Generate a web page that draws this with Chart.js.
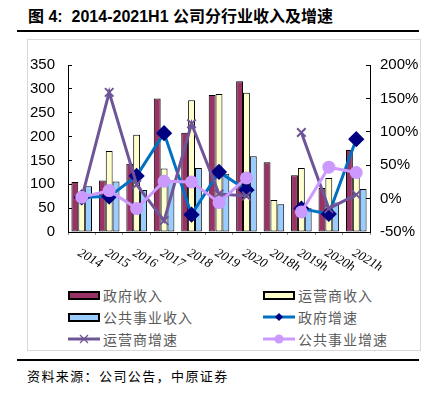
<!DOCTYPE html>
<html>
<head>
<meta charset="utf-8">
<script src="https://cdn.jsdelivr.net/npm/chart.js@4/dist/chart.umd.min.js"></script>
<style>
  body { margin: 0; width: 433px; height: 394px; background: #fff; position: relative; overflow: hidden; font-family: "Noto Sans CJK SC", sans-serif; }
  #title { position: absolute; left: 28px; top: 3px; font: bold 16px "Liberation Sans", "Noto Sans CJK SC"; white-space: pre; color: #000; }
  .rule { position: absolute; left: 17px; width: 402px; height: 2px; background: #000; }
  #frame { position: absolute; left: 27px; top: 39px; width: 394px; height: 312px; border: 1px solid #d9d9d9; box-sizing: border-box; }
  #wrap { position: absolute; left: 27px; top: 39px; width: 395px; height: 246px; }
  .leg { position: absolute; height: 18px; display: flex; align-items: center; font-size: 14px; color: #5a5a5a; letter-spacing: 1px; }
  .box { width: 32px; height: 9px; border: 2px solid #000; box-sizing: border-box; margin-right: 3px; }
  .leg svg { margin-right: 3px; }
  #source { position: absolute; left: 27px; top: 366px; font-size: 13px; letter-spacing: 1.4px; color: #000; }
</style>
</head>
<body>
<div id="title">图 4:  2014-2021H1 公司分行业收入及增速</div>
<div class="rule" style="top:30px"></div>
<div id="frame"></div>
<div id="wrap"><canvas id="chart"></canvas></div>
<div id="legend"></div>
<div class="rule" style="top:359px"></div>
<div id="source">资料来源：公司公告，中原证券</div>

<script>
const categories = ["2014", "2015", "2016", "2017", "2018", "2019", "2020", "2018h", "2019h", "2020h", "2021h"];

// revenue (left axis)
const govRevenue = [105, 108, 143, 280, 208, 287, 316, 146, 119, 92, 172];
const operatorRevenue = [75, 170, 204, 133, 276, 289, 292, 67, 134, 113, 122];
const utilityRevenue = [96, 106, 88, 108, 134, 122, 159, 58, 50, 62, 90];

// growth in % (right axis), 2018h has no growth value
const govGrowth = [2, 3, 34, 98, -24, 40, 13, null, -15, -23, 89];
const operatorGrowth = [1, 159, 21, -33, 112, 7, 4, null, 99, -15, 6];
const utilityGrowth = [2, 12, -15, 26, 25, -6, 31, null, -20, 47, 39];

const leftTicks = { min: 0, max: 350, step: 50 };
const rightTicks = { min: -50, max: 200, step: 50 };

const colors = {
  gov: "#993366",
  operator: "#FFFFCC",
  utility: "#99CCFF",
  govLine: "#0070C0",
  govPoint: "#000080",
  operatorLine: "#6F5597",
  utilityLine: "#CC99FF"
};

const legendItems = [
  { label: "政府收入", type: "box", color: colors.gov, x: 68, y: 295 },
  { label: "运营商收入", type: "box", color: colors.operator, x: 263, y: 295 },
  { label: "公共事业收入", type: "box", color: colors.utility, x: 68, y: 317 },
  { label: "政府增速", type: "diamond", color: colors.govLine, point: colors.govPoint, x: 263, y: 317 },
  { label: "运营商增速", type: "cross", color: colors.operatorLine, point: colors.operatorLine, x: 68, y: 339 },
  { label: "公共事业增速", type: "circle", color: colors.utilityLine, point: colors.utilityLine, x: 263, y: 339 }
];

function markerSvg(item) {
  let mark = "";
  if (item.type === "diamond") {
    mark = `<path d="M16 3 L20 7 L16 11 L12 7 Z" fill="${item.point}"/>`;
  } else if (item.type === "cross") {
    mark = `<path d="M12 3 L20 11 M20 3 L12 11" stroke="${item.point}" stroke-width="1.2"/>`;
  } else {
    mark = `<circle cx="16" cy="7" r="4.5" fill="${item.point}"/>`;
  }
  return `<svg width="32" height="14"><line x1="0" y1="7" x2="32" y2="7" stroke="${item.color}" stroke-width="3"/>${mark}</svg>`;
}

function renderLegend() {
  const html = legendItems.map((item) => {
    const swatch = item.type === "box"
      ? `<span class="box" style="background:${item.color}"></span>`
      : markerSvg(item);
    return `<div class="leg" style="left:${item.x}px;top:${item.y - 9}px">${swatch}<span>${item.label}</span></div>`;
  });
  document.getElementById("legend").innerHTML = html.join("");
}

// x labels are drawn slanted downward to the right, which Chart.js ticks can't do
const slantedLabels = {
  id: "slantedLabels",
  afterDraw(chart) {
    const { ctx, chartArea } = chart;
    const x = chart.scales.x;
    ctx.save();
    ctx.font = "italic 13px 'Liberation Serif'";
    ctx.fillStyle = "#000";
    ctx.textAlign = "left";
    ctx.textBaseline = "middle";
    categories.forEach((label, i) => {
      ctx.save();
      ctx.translate(x.getPixelForValue(i) - 3, chartArea.bottom + 20);
      ctx.rotate(Math.PI / 6);
      ctx.fillText(label, 0, 0);
      ctx.restore();
    });
    ctx.restore();
  }
};

const axisFont = { family: "'Liberation Sans'", size: 15 };

function barSet(label, data, color) {
  return {
    type: "bar",
    label,
    data,
    backgroundColor: color,
    borderColor: "#000",
    borderWidth: 1,
    borderSkipped: false,
    yAxisID: "y",
    order: 3,
    barPercentage: 1,
    categoryPercentage: 0.75
  };
}

function lineSet(label, data, opts) {
  return Object.assign({
    type: "line",
    label,
    data,
    yAxisID: "y1",
    borderWidth: 3,
    spanGaps: false,
    tension: 0,
    fill: false
  }, opts);
}

function renderChart() {
  new Chart(document.getElementById("chart"), {
    data: {
      labels: categories,
      datasets: [
        barSet("政府收入", govRevenue, colors.gov),
        barSet("运营商收入", operatorRevenue, colors.operator),
        barSet("公共事业收入", utilityRevenue, colors.utility),
        lineSet("政府增速", govGrowth, {
          borderColor: colors.govLine,
          pointStyle: "rectRot",
          pointRadius: 6,
          pointBackgroundColor: colors.govPoint,
          pointBorderColor: colors.govPoint,
          order: 2
        }),
        lineSet("运营商增速", operatorGrowth, {
          borderColor: colors.operatorLine,
          pointStyle: "crossRot",
          pointRadius: 6,
          pointBorderWidth: 2,
          pointBorderColor: colors.operatorLine,
          order: 1
        }),
        lineSet("公共事业增速", utilityGrowth, {
          borderColor: colors.utilityLine,
          pointStyle: "circle",
          pointRadius: 5,
          pointBackgroundColor: colors.utilityLine,
          pointBorderColor: colors.utilityLine,
          order: 0
        })
      ]
    },
    options: {
      responsive: true,
      maintainAspectRatio: false,
      animation: false,
      layout: { padding: { top: 23, left: 0, right: 0, bottom: 0 } },
      plugins: {
        legend: { display: false },
        tooltip: { enabled: false }
      },
      scales: {
        x: {
          offset: true,
          grid: { drawOnChartArea: false, tickLength: 3, color: "#999", offset: true },
          border: { color: "#000", width: 1 },
          ticks: { display: false },
          afterFit(scale) { scale.height = 53; }
        },
        y: {
          position: "left",
          min: leftTicks.min,
          max: leftTicks.max,
          grid: { drawOnChartArea: false, tickLength: -4, color: "#000" },
          border: { color: "#000", width: 1 },
          ticks: { stepSize: leftTicks.step, color: "#000", font: axisFont, padding: 17 },
          afterFit(scale) { scale.width = 41; }
        },
        y1: {
          position: "right",
          min: rightTicks.min,
          max: rightTicks.max,
          grid: { drawOnChartArea: false, tickLength: -4, color: "#000" },
          border: { color: "#000", width: 1 },
          ticks: {
            stepSize: rightTicks.step,
            color: "#000",
            font: axisFont,
            padding: 14,
            callback: (v) => `${v}%`
          },
          afterFit(scale) { scale.width = 52; }
        }
      }
    },
    plugins: [slantedLabels]
  });
}

renderLegend();
renderChart();
</script>
</body>
</html>
